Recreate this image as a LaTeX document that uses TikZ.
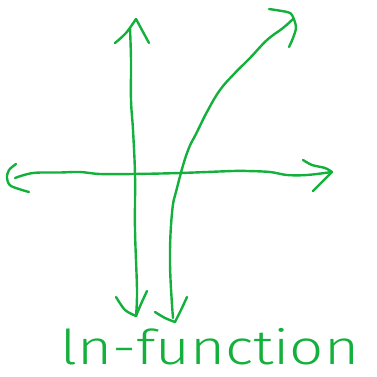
\documentclass[tikz,border=0pt]{standalone}
\usepackage{fontspec}
\newfontfamily\hand{Fira Sans Light}
\definecolor{ink}{RGB}{20,176,60}
\tikzset{pen/.style={draw=ink,line width=2.4pt,line cap=round,line join=round}}
\begin{document}
\begin{tikzpicture}[x=1pt,y=-1pt]
\useasboundingbox (0,0) rectangle (376,377);
% vertical axis
\draw[pen] plot[smooth,tension=0.6] coordinates {(130,28) (131,60) (131,100) (133,130) (135,175) (135,230) (137,290) (136,316)};
\draw[pen] plot[smooth] coordinates {(115,43) (126,33) (136,19)} -- (149,43);
\draw[pen] plot[smooth] coordinates {(116,297) (125,310) (136,316)};
\draw[pen] plot[smooth] coordinates {(136,316) (141,304) (147,291)};
% horizontal axis
\draw[pen] plot[smooth,tension=0.6] coordinates {(15,178) (33,173) (60,172.5) (80,172) (100,174) (133,174) (180,173) (233,171) (247,171) (270,172) (287,175) (307,175) (332,172)};
\draw[pen] plot[smooth] coordinates {(16,164) (9,170) (7,178) (11,186) (29,192)};
\draw[pen] plot[smooth] coordinates {(303,160) (312,165) (325,168) (332,172)};
\draw[pen] plot[smooth] coordinates {(332,172) (324,180) (313,191)};
% ln curve
\draw[pen] plot[smooth,tension=0.7] coordinates {(173,318) (170,263) (172,213) (177,188) (187,153) (197,132) (208,110) (220,90) (234,74) (250,58) (267,40) (283,28) (293,19)};
\draw[pen] plot[smooth] coordinates {(155,312) (165,318) (175,322)};
\draw[pen] plot[smooth] coordinates {(175,322) (181,310) (187,297)};
\draw[pen] plot[smooth] coordinates {(269,9) (287,12) (292,15) (296,27) (293,38) (289,47)};
% label
\node[text=ink,font=\hand\fontsize{48}{48}\selectfont,xscale=1.25,anchor=base,inner sep=0pt] (lbl) at (210,364) {ln-function};
\end{tikzpicture}
\end{document}
